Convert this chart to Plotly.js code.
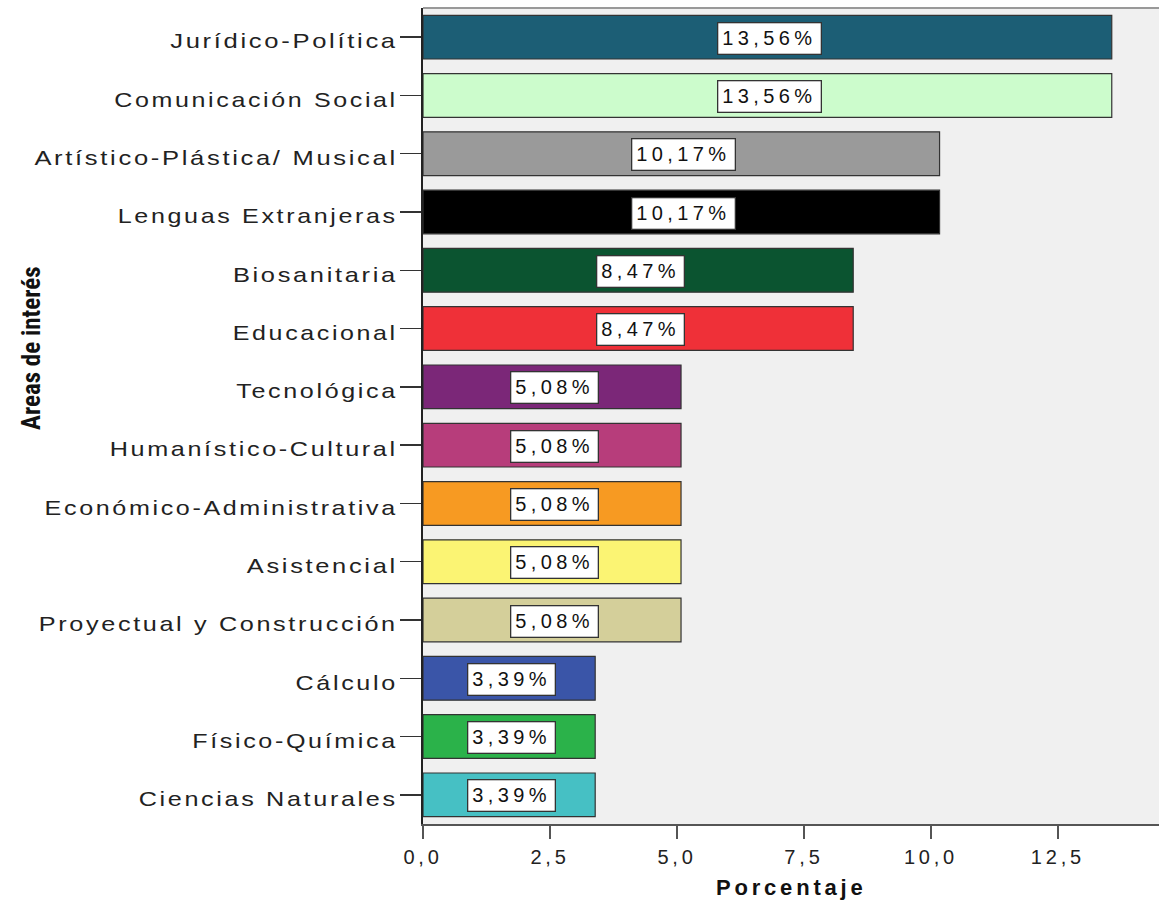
<!DOCTYPE html>
<html><head><meta charset="utf-8">
<script src="https://cdn.plot.ly/plotly-3.0.1.min.js"></script>
<style>
body{margin:0;background:#fff;}
#chart{width:1159px;height:900px;}
</style>
</head><body><div id="chart"></div>
<script>
const categories = ["Jurídico-Política","Comunicación Social","Artístico-Plástica/ Musical","Lenguas Extranjeras","Biosanitaria","Educacional","Tecnológica","Humanístico-Cultural","Económico-Administrativa","Asistencial","Proyectual y Construcción","Cálculo","Físico-Química","Ciencias Naturales"];
const values = [13.56,13.56,10.17,10.17,8.47,8.47,5.08,5.08,5.08,5.08,5.08,3.39,3.39,3.39];
const labels = ["13,56%","13,56%","10,17%","10,17%","8,47%","8,47%","5,08%","5,08%","5,08%","5,08%","5,08%","3,39%","3,39%","3,39%"];
const colors = ["#1c5e75","#ccfccc","#9a9a9a","#000000","#0b5430","#ef3038","#7b2778","#b73d7b","#f79a22","#fbf473","#d4cf9a","#3a55a8","#2bb24a","#46c0c4"];
const xTicks = [0,2.5,5,7.5,10,12.5];
const xTickText = ["0,0","2,5","5,0","7,5","10,0","12,5"];

const sp = (t, px) => `<span style="letter-spacing:${px}px">${t}</span>`;

const trace = {
  type:'bar', orientation:'h', x: values, y: categories,
  marker:{color:colors, line:{color:'#333333', width:1.2}},
  width:0.75, hoverinfo:'none'
};
const annotations = values.map((v,i)=>({
  x: v/2, y: categories[i], xref:'x', yref:'y', text: sp(labels[i], 4.4), showarrow:false,
  font:{family:'Liberation Sans, Arial, sans-serif', size:20, color:'#111'},
  bgcolor:'#ffffff', bordercolor:'#333333', borderwidth:1.3, borderpad:4, xshift:2, yshift:-1
}));
annotations.push({
  xref:'paper', yref:'paper', x:(32-423)/736, y:(824-348)/816, xanchor:'center', yanchor:'middle',
  textangle:-90, showarrow:false,
  text:'<b>Areas de interés</b>',
  font:{family:'Liberation Sans Narrow, Roboto Condensed, Roboto, sans-serif', size:25, color:'#111'}
});
annotations.push({
  xref:'paper', yref:'paper', x:0.5, y:(824-887)/816, xanchor:'center', yanchor:'middle', showarrow:false,
  text:'<b>'+sp('Porcentaje', 3.8)+'</b>',
  font:{family:'Liberation Sans, Arial, sans-serif', size:22, color:'#111'}
});
const layout = {
  width:1159, height:900,
  margin:{l:423, r:0, t:8, b:76},
  paper_bgcolor:'#ffffff', plot_bgcolor:'#f0f0f0',
  showlegend:false,
  font:{family:'Liberation Sans, Arial, sans-serif', size:20, color:'#222'},
  xaxis:{range:[0,14.49], tickvals:xTicks, ticktext:xTickText.map(t=>sp(t,3.8)), ticks:'outside', ticklen:13, tickwidth:2, tickcolor:'#555',
    showgrid:false, zeroline:false, showline:true, linecolor:'#555', linewidth:2,
    tickfont:{size:20, color:'#222'}, ticklabelstandoff:1},
  yaxis:{autorange:'reversed', tickmode:'array', tickvals:categories, ticktext:categories.map(c=>sp(c,2.2)),
    ticks:'outside', ticklen:21, tickwidth:1.5, tickcolor:'#333', showgrid:false,
    showline:true, linecolor:'#222', linewidth:2, tickfont:{size:21, color:'#222'}, ticklabelstandoff:-2},
  annotations: annotations,
  shapes:[{type:'line', xref:'paper', yref:'paper', x0:0, x1:1, y0:1, y1:1, line:{color:'#999', width:2}}]
};
Plotly.newPlot('chart',[trace],layout,{displayModeBar:false, staticPlot:true}).then(gd=>{
  // stretch y tick label glyphs horizontally (reference text is widened)
  gd.querySelectorAll('.ytick text').forEach(t=>{
    const n = t.textContent.length;
    const w = t.getComputedTextLength();
    t.setAttribute('textLength', (w + 2.4*n).toFixed(1));
    t.setAttribute('lengthAdjust','spacingAndGlyphs');
    t.setAttribute('transform', (t.getAttribute('transform')||'') + ' translate(0,4)');
  });
});
</script></body></html>
